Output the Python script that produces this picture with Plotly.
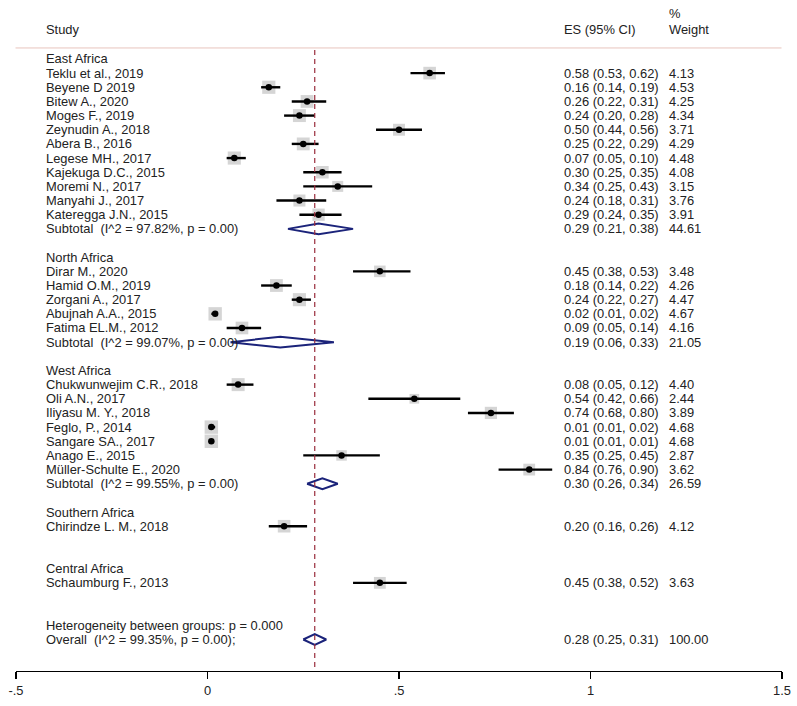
import plotly.graph_objects as go

# ---------------- data ----------------
groups = ["East Africa", "North Africa", "West Africa", "Southern Africa", "Central Africa"]

east_studies = ["Teklu et al., 2019", "Beyene D 2019", "Bitew A., 2020", "Moges F., 2019",
                "Zeynudin A., 2018", "Abera B., 2016", "Legese MH., 2017", "Kajekuga D.C., 2015",
                "Moremi N., 2017", "Manyahi J., 2017", "Kateregga J.N., 2015"]
east_es = [0.58, 0.16, 0.26, 0.24, 0.50, 0.25, 0.07, 0.30, 0.34, 0.24, 0.29]
east_lo = [0.53, 0.14, 0.22, 0.20, 0.44, 0.22, 0.05, 0.25, 0.25, 0.18, 0.24]
east_hi = [0.62, 0.19, 0.31, 0.28, 0.56, 0.29, 0.10, 0.35, 0.43, 0.31, 0.35]
east_w = [4.13, 4.53, 4.25, 4.34, 3.71, 4.29, 4.48, 4.08, 3.15, 3.76, 3.91]

north_studies = ["Dirar M., 2020", "Hamid O.M., 2019", "Zorgani A., 2017",
                 "Abujnah A.A., 2015", "Fatima EL.M., 2012"]
north_es = [0.45, 0.18, 0.24, 0.02, 0.09]
north_lo = [0.38, 0.14, 0.22, 0.01, 0.05]
north_hi = [0.53, 0.22, 0.27, 0.02, 0.14]
north_w = [3.48, 4.26, 4.47, 4.67, 4.16]

west_studies = ["Chukwunwejim C.R., 2018", "Oli A.N., 2017", "Iliyasu M. Y., 2018",
                "Feglo, P., 2014", "Sangare SA., 2017", "Anago E., 2015",
                "Müller-Schulte E., 2020"]
west_es = [0.08, 0.54, 0.74, 0.01, 0.01, 0.35, 0.84]
west_lo = [0.05, 0.42, 0.68, 0.01, 0.01, 0.25, 0.76]
west_hi = [0.12, 0.66, 0.80, 0.02, 0.01, 0.45, 0.90]
west_w = [4.40, 2.44, 3.89, 4.68, 4.68, 2.87, 3.62]

south_studies = ["Chirindze L. M., 2018"]
south_es = [0.20]
south_lo = [0.16]
south_hi = [0.26]
south_w = [4.12]

central_studies = ["Schaumburg F., 2013"]
central_es = [0.45]
central_lo = [0.38]
central_hi = [0.52]
central_w = [3.63]

# subtotals (None where not reported)
sub_labels = ["Subtotal  (I^2 = 97.82%, p = 0.00)", "Subtotal  (I^2 = 99.07%, p = 0.00)",
              "Subtotal  (I^2 = 99.55%, p = 0.00)", None, None]
sub_es = [0.29, 0.19, 0.30, None, None]
sub_lo = [0.21, 0.06, 0.26, None, None]
sub_hi = [0.38, 0.33, 0.34, None, None]
sub_w = [44.61, 21.05, 26.59, None, None]

het_label = "Heterogeneity between groups: p = 0.000"
overall_label = "Overall  (I^2 = 99.35%, p = 0.00);"
overall_es, overall_lo, overall_hi, overall_w = 0.28, 0.25, 0.31, 100.00

tick_vals = [-0.5, 0, 0.5, 1, 1.5]
tick_text = ["-.5", "0", ".5", "1", "1.5"]

# ---------------- layout geometry ----------------
W, H = 797, 706
PLOT_LEFT, PLOT_RIGHT, PLOT_BOTTOM = 15.5, 782.5, 671.5
ML = PLOT_LEFT
MR = W - PLOT_RIGHT
MT = 0
MB = H - PLOT_BOTTOM
PW = W - ML - MR
ROW0_PX, ROW_STEP = 59, 14.17


def px_to_paper_x(px):
    return (px - ML) / PW


def px_to_row(py):
    return (py - ROW0_PX) / ROW_STEP


y_top = px_to_row(0)
y_bot = px_to_row(PLOT_BOTTOM)

FONT = "Arial, Liberation Sans, sans-serif"
FS = 12.9
TXT = "#222222"
NAVY = "#1b237a"

group_data = [
    (east_studies, east_es, east_lo, east_hi, east_w),
    (north_studies, north_es, north_lo, north_hi, north_w),
    (west_studies, west_es, west_lo, west_hi, west_w),
    (south_studies, south_es, south_lo, south_hi, south_w),
    (central_studies, central_es, central_lo, central_hi, central_w),
]

annotations = []
X_LABEL = px_to_paper_x(44)
X_ES = px_to_paper_x(562)
X_W = px_to_paper_x(667)


def add_text(x, y, text):
    annotations.append(dict(x=x, y=y, xref="paper", yref="y", text=text.replace("  ", "\u00a0\u00a0"),
                            showarrow=False, xanchor="left", yanchor="middle",
                            font=dict(family=FONT, size=FS, color=TXT)))


def fmt(e, l, h):
    return f"{e:.2f} ({l:.2f}, {h:.2f})"


st_rows, st_es, st_lo, st_hi, st_w = [], [], [], [], []
dia_x, dia_y = [], []
row = 0
DH = 0.38
for gi, g in enumerate(groups):
    names, es, lo, hi, w = group_data[gi]
    add_text(X_LABEL, row, g)
    row += 1
    for n, e, l, h, ww in zip(names, es, lo, hi, w):
        add_text(X_LABEL, row, n)
        add_text(X_ES, row, fmt(e, l, h))
        add_text(X_W, row, f"{ww:.2f}")
        st_rows.append(row); st_es.append(e); st_lo.append(l); st_hi.append(h); st_w.append(ww)
        row += 1
    if sub_labels[gi] is not None:
        add_text(X_LABEL, row, sub_labels[gi])
        add_text(X_ES, row, fmt(sub_es[gi], sub_lo[gi], sub_hi[gi]))
        add_text(X_W, row, f"{sub_w[gi]:.2f}")
        dia_x += [sub_lo[gi], sub_es[gi], sub_hi[gi], sub_es[gi], sub_lo[gi], None]
        dia_y += [row, row - DH, row, row + DH, row, None]
    row += 2

add_text(X_LABEL, row, het_label)
row += 1
add_text(X_LABEL, row, overall_label)
add_text(X_ES, row, fmt(overall_es, overall_lo, overall_hi))
add_text(X_W, row, f"{overall_w:.2f}")
dia_x += [overall_lo, overall_es, overall_hi, overall_es, overall_lo, None]
dia_y += [row, row - DH, row, row + DH, row, None]

# headers
add_text(X_LABEL, px_to_row(30), "Study")
add_text(X_ES, px_to_row(30), "ES (95% CI)")
add_text(X_W, px_to_row(14), "%")
add_text(X_W, px_to_row(30), "Weight")

fig = go.Figure()

# weight boxes
box_sizes = [6.2 * (ww ** 0.5) for ww in st_w]
fig.add_trace(go.Scatter(x=st_es, y=st_rows, mode="markers",
                         marker=dict(symbol="square", size=box_sizes, color="rgba(185,185,185,0.85)",
                                     line=dict(width=0)),
                         hoverinfo="skip", showlegend=False, cliponaxis=False))
# CI lines
ci_x, ci_y = [], []
for r, l, h in zip(st_rows, st_lo, st_hi):
    ci_x += [l, h, None]
    ci_y += [r, r, None]
fig.add_trace(go.Scatter(x=ci_x, y=ci_y, mode="lines", line=dict(color="black", width=2.4),
                         hoverinfo="skip", showlegend=False, cliponaxis=False))
# point estimates
fig.add_trace(go.Scatter(x=st_es, y=st_rows, mode="markers",
                         marker=dict(symbol="circle", size=6.5, color="black"),
                         hoverinfo="skip", showlegend=False, cliponaxis=False))
# diamonds
fig.add_trace(go.Scatter(x=dia_x, y=dia_y, mode="lines", line=dict(color=NAVY, width=2),
                         hoverinfo="skip", showlegend=False, cliponaxis=False))

shapes = [
    # header separator
    dict(type="line", xref="paper", yref="y", x0=px_to_paper_x(15), x1=px_to_paper_x(782),
         y0=px_to_row(48), y1=px_to_row(48), line=dict(color="#e8c4bd", width=1)),
    # overall effect line
    dict(type="line", xref="x", yref="y", x0=overall_es, x1=overall_es,
         y0=px_to_row(50), y1=y_bot, line=dict(color="#9a2c3c", width=1.2, dash="5px,4px")),
]

fig.update_layout(
    width=W, height=H,
    margin=dict(l=ML, r=MR, t=MT, b=MB, pad=0),
    paper_bgcolor="white", plot_bgcolor="white",
    showlegend=False,
    annotations=annotations,
    shapes=shapes,
    xaxis=dict(range=[-0.5, 1.5], tickvals=tick_vals, ticktext=tick_text,
               showline=True, linecolor="black", linewidth=1.2,
               ticks="outside", ticklen=7, tickwidth=1.2, tickcolor="black",
               showgrid=False, zeroline=False,
               tickfont=dict(family=FONT, size=FS, color=TXT), fixedrange=True),
    yaxis=dict(range=[y_bot, y_top], visible=False, showgrid=False, zeroline=False, fixedrange=True),
)

fig.write_html("out.html",
               config={"displayModeBar": False, "staticPlot": True},
               post_script="document.body.style.margin='0px';document.body.style.overflow='hidden';")
